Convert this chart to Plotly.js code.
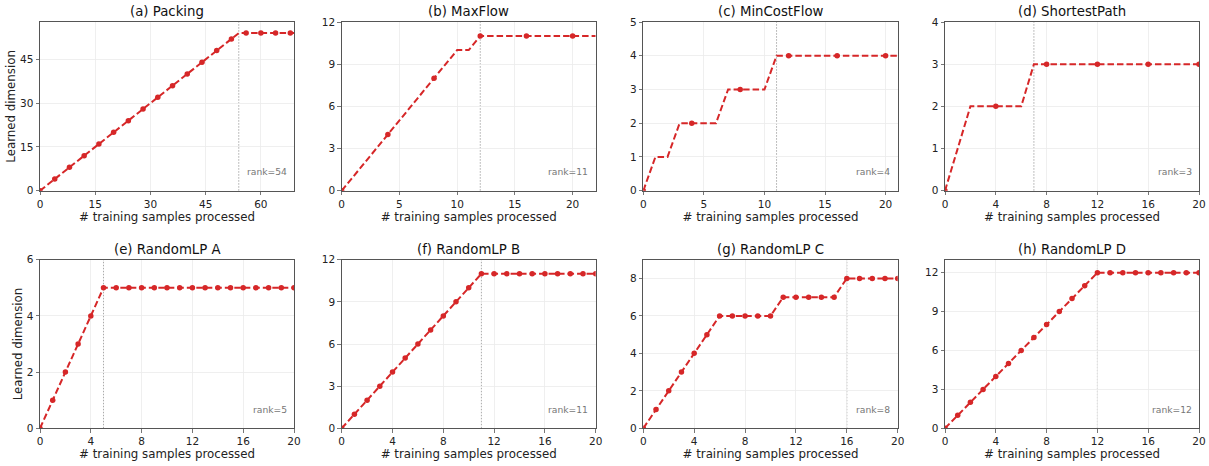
<!DOCTYPE html>
<html>
<head>
<meta charset="utf-8">
<script src="https://cdn.plot.ly/plotly-3.0.1.min.js"></script>
<style>html,body{margin:0;padding:0;background:#fff;}#chart{width:1209px;height:466px;}</style>
</head>
<body>
<div id="chart"></div>
<script>
// ---- data ----
const titles = ["(a) Packing", "(b) MaxFlow", "(c) MinCostFlow", "(d) ShortestPath",
                "(e) RandomLP A", "(f) RandomLP B", "(g) RandomLP C", "(h) RandomLP D"];
const ranks = [54, 11, 4, 3, 5, 11, 8, 12];

const packingDims = [0,1,2,3,4,5,6,7,8,9,10,11,12,13,14,15,16,17,18,19,20,21,22,23,24,25,26,27,28,29,
  30,31,32,33,34,35,36,37,38,39,40,41,42,43,44,45,46,47,48,49,50,51,52,53,54,
  54,54,54,54,54,54,54,54,54,54,54,54,54,54,54];
const maxFlowDims = [0,1,2,3,4,5,6,7,8,9,10,10,11,11,11,11,11,11,11,11,11,11,11];
const minCostFlowDims = [0,1,1,2,2,2,2,3,3,3,3,4,4,4,4,4,4,4,4,4,4,4];
const shortestPathDims = [0,1,2,2,2,2,2,3,3,3,3,3,3,3,3,3,3,3,3,3,3];
const randomLPADims = [0,1,2,3,4,5,5,5,5,5,5,5,5,5,5,5,5,5,5,5,5];
const randomLPBDims = [0,1,2,3,4,5,6,7,8,9,10,11,11,11,11,11,11,11,11,11,11];
const randomLPCDims = [0,1,2,3,4,5,6,6,6,6,6,7,7,7,7,7,8,8,8,8,8];
const randomLPDDims = [0,1,2,3,4,5,6,7,8,9,10,11,12,12,12,12,12,12,12,12,12];

const series = [packingDims, maxFlowDims, minCostFlowDims, shortestPathDims,
                randomLPADims, randomLPBDims, randomLPCDims, randomLPDDims];
const markEvery = [4, 4, 4, 4, 1, 1, 1, 1];
const yMax = [57.8, 12, 5, 4, 6, 12, 9, 13];
const yTickStep = [15, 3, 1, 1, 2, 3, 2, 3];
const xTickStep = [15, 5, 5, 4, 4, 4, 4, 4];

// ---- layout geometry ----
const W = 1209, H = 466;
const colPx = [[40, 294], [341.7, 595.7], [643.3, 897.7], [945, 1199]];
const rowPx = [[22, 190.7], [259.7, 428.3]];
const RED = '#d62728';
const FONT = 'DejaVu Sans, sans-serif';

const traces = [];
const layout = {
  width: W, height: H,
  margin: {l: 0, r: 0, t: 0, b: 0},
  paper_bgcolor: '#fff', plot_bgcolor: '#fff',
  showlegend: false,
  font: {family: FONT, color: '#222'},
  annotations: [], shapes: []
};

series.forEach((ys, i) => {
  const n = i + 1;
  const xs = ys.map((_, k) => k);
  const xa = n === 1 ? 'x' : 'x' + n;
  const ya = n === 1 ? 'y' : 'y' + n;
  const xk = n === 1 ? 'xaxis' : 'xaxis' + n;
  const yk = n === 1 ? 'yaxis' : 'yaxis' + n;
  const col = i % 4, row = Math.floor(i / 4);
  const c = colPx[col], r = rowPx[row];

  traces.push({
    type: 'scatter', mode: 'lines', x: xs, y: ys, xaxis: xa, yaxis: ya,
    line: {color: RED, width: 2, dash: '6.5px,3px'}, hoverinfo: 'skip'
  });
  const mx = xs.filter((_, k) => k % markEvery[i] === 0);
  const my = ys.filter((_, k) => k % markEvery[i] === 0);
  traces.push({
    type: 'scatter', mode: 'markers', x: mx, y: my, xaxis: xa, yaxis: ya,
    marker: {color: RED, size: 5.5}, cliponaxis: true
  });

  const axCommon = {
    showline: true, mirror: true, linecolor: '#555', linewidth: 1,
    ticks: 'outside', ticklen: 3.5, tickwidth: 0.8, tickcolor: '#555',
    showgrid: true, gridcolor: '#ebebeb', gridwidth: 0.8,
    zeroline: false, tickfont: {family: FONT, size: 10.5, color: '#222'},
    fixedrange: true
  };
  layout[xk] = Object.assign({}, axCommon, {
    domain: [c[0] / W, c[1] / W], anchor: ya,
    range: [0, xs.length - 1], tickmode: 'linear', tick0: 0, dtick: xTickStep[i],
    title: {text: '# training samples processed', font: {family: FONT, size: 11.8, color: '#222'}, standoff: 3}
  });
  layout[yk] = Object.assign({}, axCommon, {
    domain: [1 - r[1] / H, 1 - r[0] / H], anchor: xa,
    range: [0, yMax[i]], tickmode: 'linear', tick0: 0, dtick: yTickStep[i],
    title: col === 0 ? {text: 'Learned dimension', font: {family: FONT, size: 11.8, color: '#222'}, standoff: 1} : {text: ''}
  });

  layout.annotations.push({
    text: titles[i], xref: xa + ' domain', yref: ya + ' domain', x: 0.5, y: 1,
    xanchor: 'center', yanchor: 'middle', yshift: 10, showarrow: false,
    font: {family: FONT, size: 13.3, color: '#111'}
  });
  layout.annotations.push({
    text: 'rank=' + ranks[i], xref: xa + ' domain', yref: ya + ' domain', x: 0.979, y: 0.111,
    xanchor: 'right', yanchor: 'middle', showarrow: false,
    font: {family: FONT, size: 9.2, color: '#777'}
  });
  const conv = ys.indexOf(ranks[i]);
  layout.shapes.push({
    type: 'line', xref: xa, yref: ya + ' domain', x0: conv, x1: conv, y0: 0, y1: 1,
    line: {color: '#aaa', width: 1, dash: '1.5px,1.5px'}, layer: 'below'
  });
});

Plotly.newPlot('chart', traces, layout, {displayModeBar: false, staticPlot: true});
</script>
</body>
</html>
